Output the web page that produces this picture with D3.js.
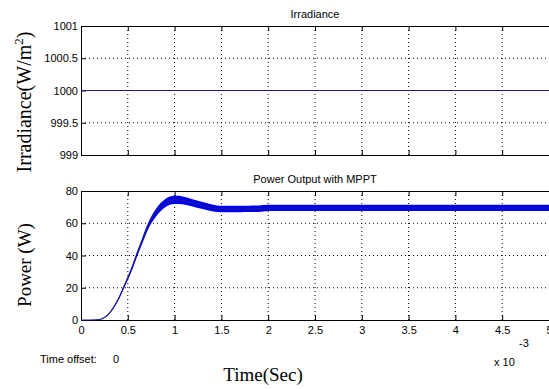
<!DOCTYPE html>
<html><head><meta charset="utf-8">
<script src="https://cdn.jsdelivr.net/npm/d3@7"></script>
<style>body{margin:0;background:#fff}svg{display:block}</style>
</head><body>
<script>
// ---- data ----
const xTicks = [0, 0.5, 1, 1.5, 2, 2.5, 3, 3.5, 4, 4.5, 5];
const irrTicks = [999, 999.5, 1000, 1000.5, 1001];
const powTicks = [0, 20, 40, 60, 80];
const irrTime = [0, 5];
const irrValue = [1000, 1000];
const powTime =   [0, 0.1, 0.2, 0.25, 0.3, 0.35, 0.4, 0.45, 0.5, 0.55, 0.6, 0.65, 0.7, 0.75, 0.8, 0.85, 0.9, 0.95, 1.0, 1.05, 1.1, 1.2, 1.3, 1.4, 1.5, 1.6, 1.7, 1.8, 1.9, 2.0, 2.5, 3.0, 3.5, 4.0, 4.5, 5.0];
const powCenter = [0, 0, 0.3, 1.5, 4, 8, 13, 19.5, 26, 33, 41, 48.5, 56, 62, 66.5, 70, 72.5, 74, 74.5, 74.5, 74, 72.5, 71, 69.5, 68.8, 68.8, 68.8, 68.9, 69, 69.5, 69.5, 69.5, 69.5, 69.5, 69.5, 69.5];
const powRipple = [0, 0, 0, 0.2, 0.4, 0.6, 0.8, 1, 1.2, 1.4, 1.6, 1.8, 2, 2.2, 2.4, 2.5, 2.6, 2.6, 2.6, 2.5, 2.4, 2.3, 2.2, 2.1, 2.0, 2.0, 2.0, 2.0, 2.0, 1.9, 1.9, 1.9, 1.9, 1.9, 1.9, 1.9];

const W = 549, H = 389;
const svg = d3.select("body").append("svg").attr("width", W).attr("height", H);
const sans = "'Liberation Sans', Arial, sans-serif";
const serif = "'Liberation Serif', 'Times New Roman', serif";

const x = d3.scaleLinear().domain([0, 5]).range([81, 549]);

function panel(top, bottom, domain, ticks, title, xlabels) {
  const y = d3.scaleLinear().domain(domain).range([bottom, top]);
  const g = svg.append("g");
  g.selectAll(".gx").data(xTicks.slice(1, -1)).join("line")
    .attr("x1", d => x(d)).attr("x2", d => x(d)).attr("y1", top).attr("y2", bottom)
    .attr("stroke", "#000").attr("stroke-width", 1).attr("stroke-dasharray", "1,3");
  g.selectAll(".gy").data(ticks.slice(1, -1)).join("line")
    .attr("x1", x(0)).attr("x2", x(5)).attr("y1", d => y(d)).attr("y2", d => y(d))
    .attr("stroke", "#000").attr("stroke-width", 1).attr("stroke-dasharray", "1,3");
  const ax = g.append("g").attr("transform", `translate(0,${bottom})`)
    .call(d3.axisBottom(x).tickValues(xTicks).tickSizeInner(-5).tickSizeOuter(0).tickFormat(xlabels ? d3.format("") : ""));
  const axTop = g.append("g").attr("transform", `translate(0,${top})`)
    .call(d3.axisTop(x).tickValues(xTicks).tickSizeInner(-5).tickSizeOuter(0).tickFormat(""));
  const ay = g.append("g").attr("transform", `translate(${x(0)},0)`)
    .call(d3.axisLeft(y).tickValues(ticks).tickSizeInner(-5).tickSizeOuter(0).tickFormat(d3.format("")));
  [ax, axTop, ay].forEach(a => {
    a.select(".domain").attr("stroke", "#000").attr("stroke-width", 1);
    a.selectAll(".tick line").attr("stroke", "#000");
    a.selectAll("text").attr("font-family", sans).attr("font-size", 11).attr("fill", "#000");
  });
  ay.selectAll("text").attr("x", -3);
  ax.selectAll("text").attr("y", 6);
  svg.append("text").attr("x", 315).attr("y", top - 8).attr("text-anchor", "middle")
    .attr("font-family", sans).attr("font-size", 11).text(title);
  return y;
}

const yI = panel(26, 155, [999, 1001], irrTicks, "Irradiance", false);
const yP = panel(191, 320, [0, 80], powTicks, "Power Output with MPPT", true);

svg.append("path").datum(irrTime.map((t, i) => [t, irrValue[i]]))
  .attr("d", d3.line().x(d => x(d[0])).y(d => yI(d[1])))
  .attr("fill", "none").attr("stroke", "#1c1c7a").attr("stroke-width", 1.2);

const pts = powTime.map((t, i) => ({t, c: powCenter[i], r: powRipple[i]}));
svg.append("path").datum(pts)
  .attr("d", d3.area().curve(d3.curveMonotoneX).x(d => x(d.t)).y0(d => yP(d.c - d.r)).y1(d => yP(d.c + d.r)))
  .attr("fill", "#0000ee").attr("stroke", "none");
svg.append("path").datum(pts)
  .attr("d", d3.line().curve(d3.curveMonotoneX).x(d => x(d.t)).y(d => yP(d.c)))
  .attr("fill", "none").attr("stroke", "#1c1c8a").attr("stroke-width", 1.1);

svg.append("text").attr("transform", "translate(31,102) rotate(-90)").attr("text-anchor", "middle")
  .attr("font-family", serif).attr("font-size", 20)
  .html("Irradiance(W/m<tspan dy='-8' font-size='13'>2</tspan><tspan dy='8'>)</tspan>");
svg.append("text").attr("transform", "translate(31,265) rotate(-90)").attr("text-anchor", "middle")
  .attr("font-family", serif).attr("font-size", 19).text("Power (W)");
svg.append("text").attr("x", 263).attr("y", 381).attr("text-anchor", "middle")
  .attr("font-family", serif).attr("font-size", 19).text("Time(Sec)");
svg.append("text").attr("x", 40).attr("y", 363)
  .attr("font-family", sans).attr("font-size", 11).text("Time offset:");
svg.append("text").attr("x", 113).attr("y", 363)
  .attr("font-family", sans).attr("font-size", 11).text("0");
svg.append("text").attr("x", 494).attr("y", 366)
  .attr("font-family", sans).attr("font-size", 11).text("x 10");
svg.append("text").attr("x", 519).attr("y", 347)
  .attr("font-family", sans).attr("font-size", 11).text("-3");
</script>
</body></html>
